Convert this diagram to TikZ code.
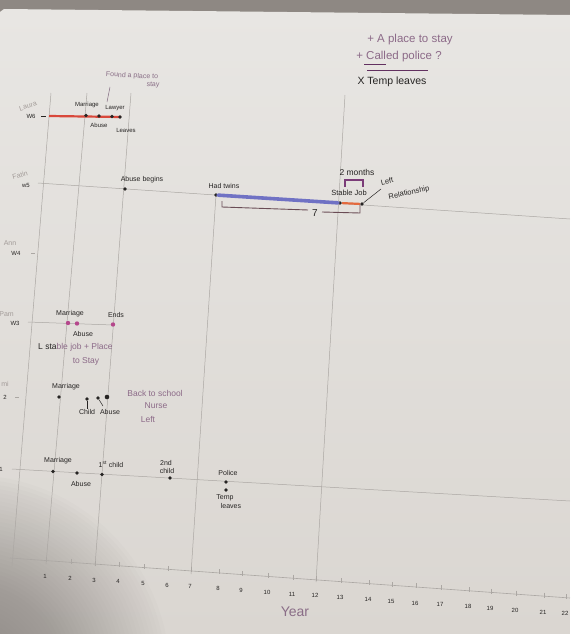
\documentclass[tikz,border=0pt]{standalone}
\usepackage{fontspec}
\setmainfont{Liberation Sans}
\definecolor{bgdark}{HTML}{8E8883}
\definecolor{paperA}{HTML}{E8E6E3}
\definecolor{paperB}{HTML}{DAD6D1}
\definecolor{shadow}{HTML}{6F6A66}
\definecolor{pencilgray}{HTML}{ABA7A3}
\definecolor{ink}{HTML}{262423}
\definecolor{mauve}{HTML}{8C6A88}
\definecolor{fainttext}{HTML}{A39C99}
\definecolor{redink}{HTML}{D9483B}
\definecolor{blueink}{HTML}{7072C4}
\definecolor{orangeink}{HTML}{E46A3E}
\definecolor{plumink}{HTML}{7B3C78}
\definecolor{brownink}{HTML}{6A4C55}
\definecolor{pinkink}{HTML}{B5478C}
\begin{document}
\begin{tikzpicture}[x=1pt,y=-1pt,
  pencil/.style={draw=pencilgray, line width=0.5pt},
  inkline/.style={draw=ink, line width=0.5pt},
  inkdot/.style={circle, fill=ink, inner sep=0pt, minimum size=3.6pt},
  pinkdot/.style={circle, fill=pinkink, inner sep=0pt, minimum size=4.4pt},
  lbl/.style={font=\fontsize{7}{8}\selectfont, text=ink, inner sep=0pt},
  smalllbl/.style={font=\fontsize{6}{7}\selectfont, text=ink, inner sep=0pt},
  purplelbl/.style={font=\fontsize{8.5}{9}\selectfont, text=mauve, inner sep=0pt},
  faintlbl/.style={font=\fontsize{7}{8}\selectfont, text=fainttext, inner sep=0pt},
  ticklbl/.style={font=\fontsize{6}{7}\selectfont, text=ink, inner sep=0pt},
  notelbl/.style={font=\fontsize{11.5}{13}\selectfont, inner sep=0pt}
]
\useasboundingbox (0,0) rectangle (570,634);

% photo backdrop, sheet of paper and the soft shadow in the lower left corner
\fill[bgdark] (0,0) rectangle (570,634);
\shade[top color=paperA, bottom color=paperB]
  (0,12) -- (4,9) -- (570,15) -- (570,634) -- (0,634) -- cycle;
\begin{scope}
  \clip (0,0) rectangle (570,634);
  \foreach \r in {200,196,...,8}{
    \fill[shadow, opacity=0.02] (-30,675) circle (\r);
  }
\end{scope}

% year axis
\coordinate (axL) at (10,558);
\coordinate (axR) at (570,598);
\draw[pencil, line width=0.6pt] (axL) -- (axR);
\foreach \n/\x in {1/46,2/71,3/95,4/119,5/144,6/168,7/191,8/219,9/242,10/268,11/293,
                   12/316,13/341,14/369,15/392,16/416,17/441,18/469,19/491,20/516,21/544,22/566}{
  \pgfmathsetmacro{\ya}{558+0.0714*(\x-10)}
  \draw[pencil] (\x,\ya-3.5) -- (\x,\ya+1.5);
  \node[ticklbl] (tick\n) at (\x-1,\ya+16) {\n};
}
\node[font=\fontsize{14}{16}\selectfont, text=mauve!85!gray, inner sep=0pt] (yearlbl) at (295,612) {Year};

% vertical guide lines
\coordinate (v0t) at (51,93);   \coordinate (v0b) at (12,566);
\coordinate (v1t) at (87,93);   \coordinate (v1b) at (46,564);
\coordinate (v3t) at (131,93);  \coordinate (v3b) at (95,566);
\coordinate (v7b) at (191,574);
\coordinate (v12t) at (345,95); \coordinate (v12b) at (316,582);
\draw[pencil] (v0t) -- (v0b);
\draw[pencil] (v1t) -- (v1b);
\draw[pencil] (v3t) -- (v3b);
\draw[pencil] (216,195) -- (v7b);
\draw[pencil] (v12t) -- (v12b);

% ---------- W6 ----------
\node[smalllbl] (w6lbl) at (31,116) {W6};
\draw[inkline] (41,116) -- (46,116);
\node[faintlbl, rotate=18] (w6name) at (28,106) {Laura};
\coordinate (w6s) at (49,116);
\coordinate (w6e) at (121,117);
\draw[redink, line width=2.2pt] (w6s) -- (w6e);
\node[inkdot] (w6m) at (86,115.5) {};
\node[inkdot] (w6a) at (99,116) {};
\node[inkdot] (w6l) at (112,116.5) {};
\node[inkdot] (w6v) at (120,117) {};
\node[smalllbl] (w6mt) at (87,105) {Marriage};
\node[smalllbl] (w6at) at (99,125) {Abuse};
\node[smalllbl] (w6lt) at (115,108) {Lawyer};
\node[smalllbl] (w6vt) at (126,130) {Leaves};
\node[font=\fontsize{7}{8}\selectfont, text=mauve!80!gray, inner sep=0pt, rotate=-3] (found) at (132,76) {Found a place to};
\node[font=\fontsize{7}{8}\selectfont, text=mauve!80!gray, inner sep=0pt, rotate=-3] (found2) at (153,85) {stay};
\coordinate (foundtip) at (107,102);
\draw[draw=mauve!70!gray, line width=0.5pt] (110,87) -- (foundtip);

% ---------- W5 ----------
\node[smalllbl] (w5lbl) at (26,185) {w5};
\node[faintlbl, rotate=15] (w5name) at (20,175) {Fatin};
\coordinate (w5s) at (38,183);
\coordinate (w5e) at (570,219);
\draw[pencil] (w5s) -- (w5e);
\node[inkdot] (w5a) at (125,189) {};
\node[inkdot] (w5t) at (216,195) {};
\node[inkdot] (w5j) at (340,203) {};
\node[inkdot] (w5r) at (362,204) {};
\draw[blueink, line width=3.6pt, line cap=round] (w5t) -- (w5j);
\draw[orangeink, line width=2.2pt] (w5j) -- (w5r);
\node[lbl] (w5at) at (142,180) {Abuse begins};
\node[lbl] (w5tt) at (224,186) {Had twins};
\node[font=\fontsize{7.5}{8}\selectfont, text=ink, inner sep=0pt] (w5jt) at (349,193) {Stable Job};
\node[font=\fontsize{8.5}{9}\selectfont, text=ink, inner sep=0pt] (months) at (357,172) {2 months};
\coordinate (br1) at (345,187); \coordinate (br2) at (345,180);
\coordinate (br3) at (363,180); \coordinate (br4) at (363,187);
\draw[plumink, line width=1.3pt] (br1) -- (br2) -- (br3) -- (br4);
\node[font=\fontsize{7.5}{8}\selectfont, text=ink, inner sep=0pt, rotate=14] (leftt) at (387,181) {Left};
\node[font=\fontsize{7.5}{8}\selectfont, text=ink, inner sep=0pt, rotate=12] (relt) at (409,193) {Relationship};
\coordinate (lrtip) at (381,189);
\draw[inkline] (w5r) -- (lrtip);
% span of seven years under the blue bar
\coordinate (sp1) at (222,201); \coordinate (sp2) at (222,207); \coordinate (sp3) at (308,210);
\coordinate (sp4) at (322,212); \coordinate (sp5) at (360,213); \coordinate (sp6) at (360,205);
\draw[brownink, line width=0.9pt] (sp1) -- (sp2) -- (sp3);
\draw[brownink, line width=0.9pt] (sp4) -- (sp5) -- (sp6);
\node[font=\fontsize{10}{11}\selectfont, text=ink, inner sep=0pt] (seven) at (315,213) {7};

% ---------- W4 ----------
\node[smalllbl] (w4lbl) at (16,253) {W4};
\node[faintlbl] (w4name) at (10,243) {Ann};
\draw[pencil] (31,253) -- (35,253);

% ---------- W3 ----------
\node[smalllbl] (w3lbl) at (15,323) {W3};
\node[faintlbl, anchor=east] (w3name) at (14,314) {Pam};
\coordinate (w3s) at (28,322);
\coordinate (w3e) at (113,325);
\draw[pencil] (w3s) -- (w3e);
\node[pinkdot] (w3m) at (68,323) {};
\node[pinkdot] (w3a) at (77,323.5) {};
\node[pinkdot] (w3x) at (113,324.5) {};
\node[lbl] (w3mt) at (70,314) {Marriage};
\node[lbl] (w3at) at (83,334) {Abuse};
\node[lbl] (w3xt) at (116,315) {Ends};
\node[purplelbl, anchor=west] (w3note) at (38,347) {\textcolor{ink}{L sta}ble job + Place};
\node[purplelbl] (w3note2) at (86,361) {to Stay};

% ---------- W2 ----------
\node[smalllbl] (w2lbl) at (5,397) {2};
\node[faintlbl, anchor=east] (w2name) at (9,384) {mi};
\draw[pencil] (15,397) -- (19,397);
\node[inkdot] (w2m) at (59,397) {};
\node[inkdot] (w2c) at (87,399) {};
\node[inkdot] (w2a) at (98,398) {};
\node[inkdot, minimum size=4.6pt] (w2x) at (107,397) {};
\node[lbl] (w2mt) at (66,387) {Marriage};
\node[lbl] (w2ct) at (87,412) {Child};
\node[lbl] (w2at) at (110,412) {Abuse};
\draw[inkline] (w2c) -- (w2ct.north);
\draw[inkline] (w2a) -- (103,406);
\node[purplelbl] (school) at (155,393) {Back to school};
\node[purplelbl] (nurse) at (156,406) {Nurse};
\node[purplelbl] (nleft) at (148,419) {Left};

% ---------- W1 ----------
\node[smalllbl, anchor=east] (w1lbl) at (3,469) {1};
\coordinate (w1s) at (12,469);
\coordinate (w1e) at (570,501);
\draw[pencil] (w1s) -- (w1e);
\node[inkdot] (w1m) at (53,471.5) {};
\node[inkdot] (w1a) at (77,473) {};
\node[inkdot] (w1c) at (102,474.5) {};
\node[inkdot] (w1d) at (170,478) {};
\node[inkdot] (w1p) at (226,482) {};
\node[inkdot] (w1t) at (226,490) {};
\node[lbl] (w1mt) at (58,461) {Marriage};
\node[lbl] (w1at) at (81,484) {Abuse};
\node[lbl] (w1ct) at (111,464) {1\textsuperscript{st} child};
\node[lbl] (w1dt) at (166,463) {2nd};
\node[lbl] (w1dt2) at (167,470.5) {child};
\node[lbl] (w1pt) at (228,473) {Police};
\node[lbl] (w1tt) at (225,498) {Temp};
\node[lbl] (w1tt2) at (231,506) {leaves};

% ---------- notes, top right ----------
\node[notelbl, text=mauve] (n1) at (410,40) {+ A place to stay};
\node[notelbl, text=mauve] (n2) at (399,57) {+ Called police ?};
\coordinate (u1) at (364,64); \coordinate (u2) at (386,64);
\coordinate (u3) at (367,70); \coordinate (u4) at (428,70);
\draw[plumink!80!black, line width=0.6pt] (u1) -- (u2);
\draw[plumink!80!black, line width=0.6pt] (u3) -- (u4);
\node[notelbl, font=\fontsize{10.5}{12}\selectfont, text=ink] (n3) at (392,82) {X Temp leaves};
\end{tikzpicture}
\end{document}
